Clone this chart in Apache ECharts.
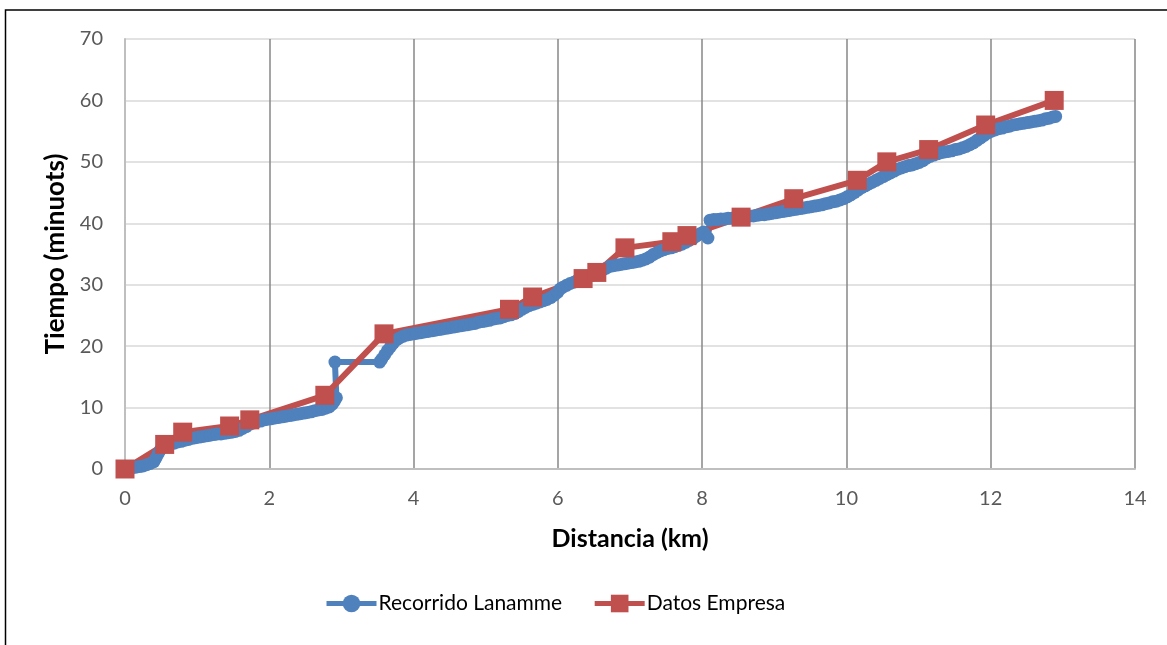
<!DOCTYPE html>
<html>
<head>
<meta charset="utf-8">
<script src="https://cdn.jsdelivr.net/npm/echarts@6/dist/echarts.min.js"></script>
<style>
  html, body { margin: 0; padding: 0; background: #fff; }
  #chart { width: 1167px; height: 645px; }
</style>
</head>
<body>
<div id="chart"></div>
<script>
// Recorrido Lanamme: GPS trace as [distance km, elapsed time min]
const lanamme = [
  [0.00, 0.0], [0.05, 0.1], [0.10, 0.2], [0.15, 0.3], [0.20, 0.4], [0.25, 0.5],
  [0.30, 0.7], [0.35, 0.9], [0.40, 1.2], [0.43, 1.8], [0.46, 2.5], [0.49, 3.1],
  [0.53, 3.6], [0.58, 3.9], [0.63, 4.1], [0.68, 4.2], [0.73, 4.4], [0.78, 4.5],
  [0.83, 4.7], [0.88, 4.8], [0.93, 5.0], [0.98, 5.1], [1.03, 5.2], [1.08, 5.3],
  [1.13, 5.4], [1.18, 5.5], [1.23, 5.6], [1.28, 5.7], [1.33, 5.7], [1.38, 5.8],
  [1.43, 5.9], [1.48, 6.0], [1.53, 6.1], [1.58, 6.3], [1.63, 6.6], [1.68, 6.9],
  [1.73, 7.3], [1.78, 7.5], [1.83, 7.7], [1.88, 7.8], [1.93, 8.0], [1.98, 8.1],
  [2.03, 8.2], [2.08, 8.3], [2.13, 8.4], [2.18, 8.5], [2.23, 8.6], [2.28, 8.7],
  [2.33, 8.8], [2.38, 8.9], [2.43, 9.0], [2.48, 9.1], [2.53, 9.2], [2.58, 9.3],
  [2.63, 9.5], [2.68, 9.6], [2.73, 9.7], [2.78, 9.9], [2.83, 10.1], [2.87, 10.5],
  [2.90, 11.0], [2.93, 11.6], [2.91, 17.4], [3.53, 17.4], [3.56, 17.9], [3.60, 18.6],
  [3.64, 19.3], [3.68, 19.9], [3.72, 20.5], [3.76, 21.0], [3.80, 21.3], [3.85, 21.6],
  [3.90, 21.8], [3.95, 21.9], [4.00, 22.0], [4.05, 22.1], [4.10, 22.2], [4.15, 22.3],
  [4.20, 22.4], [4.25, 22.5], [4.30, 22.6], [4.35, 22.7], [4.40, 22.8], [4.45, 22.9],
  [4.50, 23.0], [4.55, 23.1], [4.60, 23.2], [4.65, 23.3], [4.70, 23.4], [4.75, 23.5],
  [4.80, 23.6], [4.85, 23.7], [4.90, 23.9], [4.95, 24.0], [5.00, 24.1], [5.05, 24.2],
  [5.10, 24.4], [5.15, 24.5], [5.20, 24.6], [5.25, 24.8], [5.30, 25.0], [5.35, 25.1],
  [5.40, 25.3], [5.45, 25.6], [5.50, 26.0], [5.55, 26.3], [5.60, 26.6], [5.65, 26.8],
  [5.70, 27.0], [5.75, 27.2], [5.80, 27.4], [5.85, 27.6], [5.90, 27.9], [5.95, 28.3],
  [6.00, 28.8], [6.03, 29.3], [6.07, 29.6], [6.12, 29.9], [6.17, 30.2], [6.22, 30.4],
  [6.27, 30.7], [6.32, 30.9], [6.37, 31.1], [6.42, 31.3], [6.47, 31.5], [6.52, 31.8],
  [6.57, 32.1], [6.62, 32.4], [6.67, 32.7], [6.72, 33.0], [6.77, 33.1], [6.82, 33.2],
  [6.87, 33.3], [6.92, 33.4], [6.97, 33.5], [7.02, 33.6], [7.07, 33.7], [7.12, 33.8],
  [7.17, 34.0], [7.22, 34.2], [7.27, 34.5], [7.32, 34.9], [7.37, 35.2], [7.42, 35.5],
  [7.47, 35.7], [7.52, 35.9], [7.57, 36.0], [7.62, 36.2], [7.67, 36.4], [7.72, 36.6],
  [7.77, 36.9], [7.82, 37.2], [7.87, 37.5], [7.92, 37.9], [7.97, 38.3], [8.02, 38.6],
  [8.08, 37.6], [8.11, 40.5], [8.16, 40.6], [8.21, 40.6], [8.26, 40.7], [8.31, 40.7],
  [8.36, 40.8], [8.41, 40.8], [8.46, 40.9], [8.51, 41.0], [8.56, 41.0], [8.61, 41.1],
  [8.66, 41.2], [8.71, 41.2], [8.76, 41.3], [8.81, 41.4], [8.86, 41.4], [8.91, 41.5],
  [8.96, 41.6], [9.01, 41.7], [9.06, 41.8], [9.11, 41.9], [9.16, 42.0], [9.21, 42.1],
  [9.26, 42.2], [9.31, 42.3], [9.36, 42.4], [9.41, 42.5], [9.46, 42.6], [9.51, 42.7],
  [9.56, 42.8], [9.61, 42.9], [9.66, 43.0], [9.71, 43.2], [9.76, 43.3], [9.81, 43.5],
  [9.86, 43.6], [9.91, 43.8], [9.96, 44.0], [10.01, 44.3], [10.06, 44.6], [10.11, 45.0],
  [10.16, 45.4], [10.21, 45.8], [10.26, 46.1], [10.31, 46.4], [10.36, 46.7], [10.41, 47.0],
  [10.46, 47.3], [10.51, 47.6], [10.56, 47.9], [10.61, 48.2], [10.66, 48.5], [10.71, 48.8],
  [10.76, 49.0], [10.81, 49.2], [10.86, 49.4], [10.91, 49.5], [10.96, 49.7], [11.01, 49.9],
  [11.06, 50.2], [11.11, 50.6], [11.16, 50.9], [11.21, 51.1], [11.26, 51.3], [11.31, 51.5],
  [11.36, 51.6], [11.41, 51.7], [11.46, 51.8], [11.51, 52.0], [11.56, 52.1], [11.61, 52.3],
  [11.66, 52.5], [11.71, 52.8], [11.76, 53.1], [11.81, 53.5], [11.86, 53.9], [11.91, 54.3],
  [11.96, 54.7], [12.01, 55.0], [12.06, 55.2], [12.11, 55.4], [12.16, 55.5], [12.21, 55.7],
  [12.26, 55.8], [12.31, 56.0], [12.36, 56.1], [12.41, 56.2], [12.46, 56.3], [12.51, 56.4],
  [12.56, 56.5], [12.61, 56.6], [12.66, 56.7], [12.71, 56.8], [12.76, 57.0], [12.81, 57.1],
  [12.86, 57.3], [12.90, 57.4]
];

// Datos Empresa: stop schedule reported by the operator
const empresaKm = [
  0.00, 0.55, 0.80, 1.45, 1.73, 2.77, 3.59, 5.33, 5.65, 6.35,
  6.54, 6.93, 7.58, 7.79, 8.54, 9.27, 10.15, 10.56, 11.14, 11.93, 12.88
];
const empresaMin = [
  0, 4, 6, 7, 8, 12, 22, 26, 28, 31,
  32, 36, 37, 38, 41, 44, 47, 50, 52, 56, 60
];

const xTicks = [0, 2, 4, 6, 8, 10, 12, 14];
const yTicks = [0, 10, 20, 30, 40, 50, 60, 70];

const empresa = empresaKm.map((x, i) => [x, empresaMin[i]]);

const FONT = 'Lato, "Open Sans", sans-serif';
const BLUE = '#4f81bd';
const RED = '#c0504d';

const chart = echarts.init(document.getElementById('chart'), null, { renderer: 'canvas' });

chart.setOption({
  animation: false,
  backgroundColor: '#ffffff',
  textStyle: { fontFamily: FONT },
  graphic: [{
    type: 'rect',
    shape: { x: 5.5, y: 10, width: 1300, height: 800 },
    style: { fill: 'none', stroke: '#000', lineWidth: 1.5 },
    silent: true
  }],
  grid: { left: 125, right: 32, top: 39, bottom: 176, containLabel: false },
  legend: {
    bottom: 26,
    left: 319,
    itemWidth: 50,
    itemHeight: 22,
    itemGap: 30,
    lineStyle: { width: 5 },
    textStyle: { fontFamily: FONT, fontSize: 21, color: '#000', padding: [0, 0, 0, -3] },
    data: ['Recorrido Lanamme', 'Datos Empresa']
  },
  xAxis: {
    type: 'value',
    min: xTicks[0],
    max: xTicks[xTicks.length - 1],
    interval: 2,
    name: 'Distancia (km)',
    nameLocation: 'middle',
    nameGap: 57,
    nameTextStyle: { fontFamily: FONT, fontSize: 25, fontWeight: 'bold', color: '#000' },
    axisLine: { show: true, lineStyle: { color: '#bfbfbf', width: 2 } },
    axisTick: { show: false },
    axisLabel: { fontFamily: FONT, fontSize: 20, color: '#595959', margin: 20 },
    splitLine: { show: true, lineStyle: { color: '#878787', width: 1.5 } }
  },
  yAxis: {
    type: 'value',
    min: yTicks[0],
    max: yTicks[yTicks.length - 1],
    interval: 10,
    name: 'Tiempo (minuots)',
    nameLocation: 'middle',
    nameGap: 54,
    nameRotate: 90,
    nameTextStyle: { fontFamily: FONT, fontSize: 26, fontWeight: 'bold', color: '#000' },
    axisLine: { show: true, lineStyle: { color: '#bfbfbf', width: 2 } },
    axisTick: { show: false },
    axisLabel: { fontFamily: FONT, fontSize: 20, color: '#595959', margin: 22 },
    splitLine: { show: true, lineStyle: { color: '#d9d9d9', width: 1.5 } }
  },
  series: [
    {
      name: 'Recorrido Lanamme',
      type: 'line',
      data: lanamme,
      symbol: 'circle',
      symbolSize: 13,
      showSymbol: true,
      showAllSymbol: true,
      lineStyle: { color: BLUE, width: 6 },
      itemStyle: { color: BLUE }
    },
    {
      name: 'Datos Empresa',
      type: 'line',
      data: empresa,
      symbol: 'rect',
      symbolSize: 19,
      showSymbol: true,
      showAllSymbol: true,
      lineStyle: { color: RED, width: 6 },
      itemStyle: { color: RED }
    }
  ]
});
</script>
</body>
</html>
